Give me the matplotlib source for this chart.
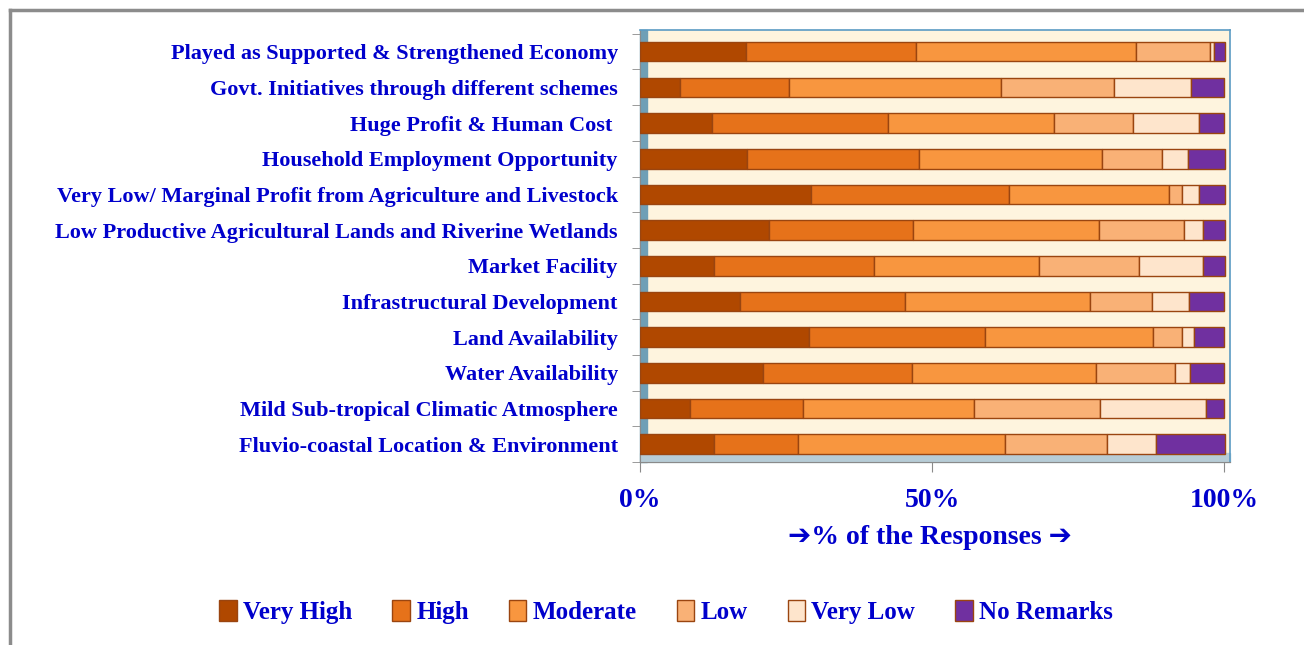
import matplotlib
matplotlib.use("Agg")
import matplotlib.pyplot as plt
from matplotlib.patches import Rectangle, Patch
from matplotlib.lines import Line2D
import numpy as np

# Factors (bottom to top as drawn)
categories = [
    "Fluvio-coastal Location & Environment",
    "Mild Sub-tropical Climatic Atmosphere",
    "Water Availability",
    "Land Availability",
    "Infrastructural Development",
    "Market Facility",
    "Low Productive Agricultural Lands and Riverine Wetlands",
    "Very Low/ Marginal Profit from Agriculture and Livestock",
    "Household Employment Opportunity",
    "Huge Profit & Human Cost ",
    "Govt. Initiatives through different schemes",
    "Played as Supported & Strengthened Economy",
]

# % of responses per rating level
very_high = [12.7, 8.6, 21.1, 28.9, 17.2, 12.7, 22.0, 29.2, 18.4, 12.3, 6.9, 18.1]
high = [14.4, 19.3, 25.5, 30.2, 28.2, 27.4, 24.7, 34.0, 29.4, 30.1, 18.6, 29.1]
moderate = [35.3, 29.2, 31.4, 28.7, 31.6, 28.2, 31.8, 27.4, 31.3, 28.5, 36.3, 37.7]
low = [17.6, 21.6, 13.5, 4.9, 10.6, 17.1, 14.7, 2.2, 10.3, 13.5, 19.3, 12.7]
very_low = [8.4, 18.1, 2.7, 2.2, 6.4, 11.0, 3.2, 2.9, 4.4, 11.3, 13.2, 0.7]
no_remarks = [11.7, 3.2, 5.7, 5.1, 5.9, 3.7, 3.7, 4.4, 6.3, 4.2, 5.7, 1.9]

levels = ["Very High", "High", "Moderate", "Low", "Very Low", "No Remarks"]
colors = ["#B04800", "#E6721A", "#F8963F", "#F9B176", "#FEE5CC", "#7030A0"]
series = [very_high, high, moderate, low, very_low, no_remarks]

blue = "#0000CC"
serif = ["Liberation Serif", "DejaVu Serif"]

fig = plt.figure(figsize=(13.04, 6.45), dpi=100)
ax = fig.add_axes([0.4908, 0.2837, 0.4525, 0.670])
ax.set_facecolor("#FEF4DE")

y = np.arange(len(categories))
left = np.zeros(len(categories))
for name, vals, col in zip(levels, series, colors):
    vals = np.array(vals)
    ax.barh(y, vals, left=left, height=0.55, color=col,
            edgecolor="#9A4510", linewidth=1.0, label=name, zorder=3)
    left += vals

ax.set_xlim(0, 101)
ax.set_ylim(-0.42, 11.61)

# 3-D style side wall and floor
ax.add_patch(Rectangle((0, 0), 0.012, 1, transform=ax.transAxes,
                       color="#6F9FB6", zorder=1, clip_on=False))
ax.add_patch(Rectangle((0, 0), 1, 0.022, transform=ax.transAxes,
                       color="#B7CCD6", zorder=1, clip_on=False))

for s in ["top", "right"]:
    ax.spines[s].set_color("#5A9BC4")
    ax.spines[s].set_linewidth(1.2)
for s in ["left", "bottom"]:
    ax.spines[s].set_color("#8A8A8A")

ax.set_xticks([0, 50, 100])
ax.set_xticklabels(["0%", "50%", "100%"])
ax.set_yticks(y)
ax.set_yticklabels(categories)
ax.set_yticks(np.arange(-0.5, 12, 1), minor=True)
ax.tick_params(axis="y", which="major", length=0, pad=16)
ax.tick_params(axis="y", which="minor", length=6, color="#8A8A8A")
ax.tick_params(axis="x", length=7, color="#8A8A8A", pad=12)

for lab in ax.get_yticklabels():
    lab.set_fontfamily(serif)
    lab.set_fontweight("bold")
    lab.set_fontsize(16)
    lab.set_color(blue)
for lab in ax.get_xticklabels():
    lab.set_fontfamily(serif)
    lab.set_fontweight("bold")
    lab.set_fontsize(20)
    lab.set_color(blue)

fig.text(930 / 1304, 1 - 538 / 645, "\u2794% of the Responses \u2794",
         ha="center", va="center", fontsize=20, fontweight="bold",
         color=blue, family=["Liberation Serif", "DejaVu Sans"])

handles = [Patch(facecolor=c, edgecolor="#9A4510", label=n)
           for n, c in zip(levels, colors)]
leg = fig.legend(handles=handles, loc="center", ncol=6,
                 bbox_to_anchor=(666 / 1304, 1 - 612 / 645), frameon=False,
                 handlelength=0.7, handleheight=0.9, handletextpad=0.25,
                 columnspacing=1.6,
                 prop={"family": serif, "weight": "bold", "size": 18})
for t in leg.get_texts():
    t.set_color(blue)

# outer frame
fig.add_artist(Line2D([10 / 1304, 10 / 1304], [0, 1 - 10 / 645],
                      transform=fig.transFigure, color="#8C8C8C", lw=2.5))
fig.add_artist(Line2D([10 / 1304, 1], [1 - 10 / 645, 1 - 10 / 645],
                      transform=fig.transFigure, color="#8C8C8C", lw=2.5))

fig.savefig("out.png", dpi=100)
